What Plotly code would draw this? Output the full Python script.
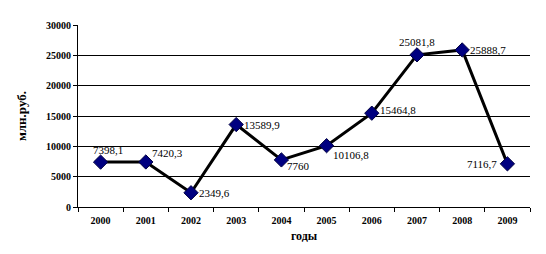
import plotly.graph_objects as go

years = ["2000", "2001", "2002", "2003", "2004", "2005", "2006", "2007", "2008", "2009"]
values = [7398.1, 7420.3, 2349.6, 13589.9, 7760, 10106.8, 15464.8, 25081.8, 25888.7, 7116.7]
labels = ["7398,1", "7420,3", "2349,6", "13589,9", "7760", "10106,8", "15464,8", "25081,8", "25888,7", "7116,7"]
# label offsets (px) and anchors
offsets = [(7, 12, "center"), (4, 9, "left"), (6, 0, "left"), (6, 0, "left"), (4, -6, "left"),
           (4, -9, "left"), (6, 3, "left"), (0, 13, "center"), (6, 0, "left"), (-8, 0, "right")]

font = "Liberation Serif, Times New Roman, serif"
xpos = list(range(len(years)))
bounds = [i - 0.5 for i in range(len(years) + 1)]

fig = go.Figure()
fig.add_trace(go.Scatter(
    x=xpos, y=values, mode="lines+markers",
    line=dict(color="black", width=3),
    marker=dict(symbol="diamond", size=11, color="#000080", line=dict(color="#000040", width=1)),
    showlegend=False, hoverinfo="skip",
))
for x, y, t, (dx, dy, anc) in zip(xpos, values, labels, offsets):
    fig.add_annotation(x=x, y=y, text=t, showarrow=False, xanchor=anc, yanchor="middle",
                       xshift=dx, yshift=dy, font=dict(family=font, size=11, color="black"))

fig.update_layout(
    width=546, height=254,
    margin=dict(l=78, r=16, t=25, b=47),
    paper_bgcolor="white", plot_bgcolor="white",
    font=dict(family=font, color="black"),
    xaxis=dict(
        range=[-0.5, len(years) - 0.5], tickvals=xpos, ticktext=years, ticks="",
        minor=dict(tickvals=bounds, ticks="outside", ticklen=4, tickcolor="black", showgrid=False),
        showline=True, linecolor="black", linewidth=1, zeroline=False, ticklabelstandoff=4,
        showgrid=False, tickfont=dict(family=font, size=10, color="black", weight="bold"),
        title=dict(text="<b>годы</b>", font=dict(family=font, size=12), standoff=6),
    ),
    yaxis=dict(
        range=[0, 30000], tickvals=[0, 5000, 10000, 15000, 20000, 25000, 30000],
        ticktext=["0", "5000", "10000", "15000", "20000", "25000", "30000"],
        ticks="outside", ticklen=4, tickcolor="black",
        showline=True, linecolor="black", linewidth=1,
        showgrid=True, gridcolor="black", gridwidth=1, zeroline=False,
        tickfont=dict(family=font, size=10, color="black", weight="bold"),
        title=dict(text="<b>млн.руб.</b>", font=dict(family=font, size=13), standoff=16),
    ),
)
fig.write_html("out.html")
